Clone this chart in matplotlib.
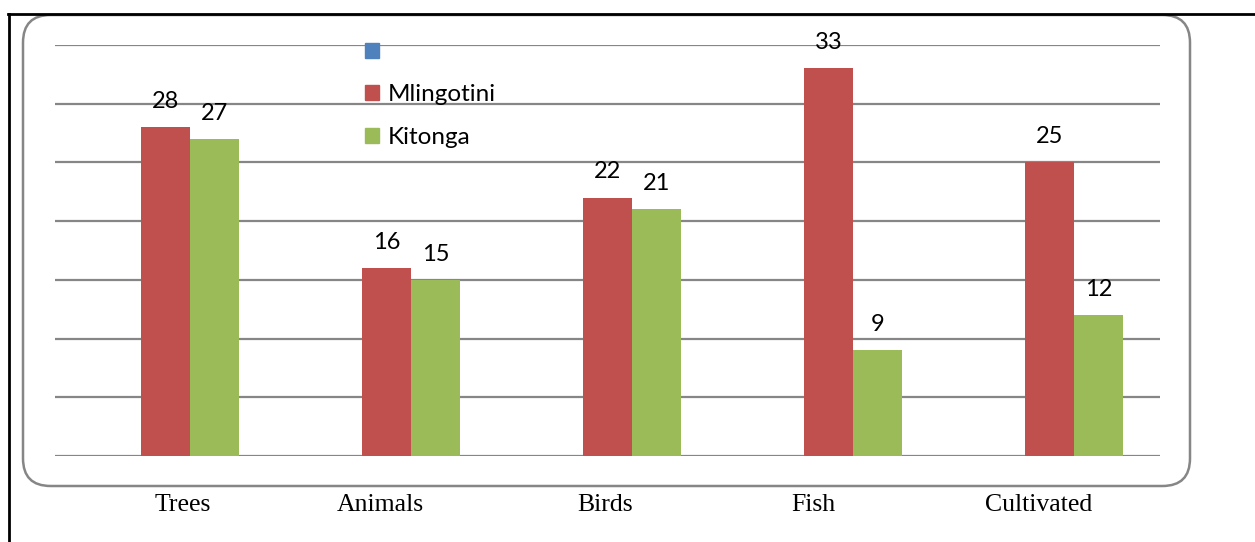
import numpy as np
import matplotlib.pyplot as plt
from matplotlib.patches import FancyBboxPatch, Patch
from matplotlib.lines import Line2D

categories = ['Trees', 'Animals', 'Birds', 'Fish', 'Cultivated']
mlingotini = [28, 16, 22, 33, 25]
kitonga = [27, 15, 21, 9, 12]

red = '#C0504D'
green = '#9BBB59'
blue = '#4F81BD'
grid_col = '#868686'

W, H = 1255, 542
fig = plt.figure(figsize=(W / 100, H / 100), dpi=100)

# axes placed in pixel terms
ax = fig.add_axes([55 / W, (H - 456) / H, 1105 / W, 411 / H])
x = np.arange(len(categories))
bw = 0.222
# empty first (blue) series sits left of the red bar
b1 = ax.bar(x, mlingotini, bw, color=red, zorder=3)
b2 = ax.bar(x + bw, kitonga, bw, color=green, zorder=3)

for bars, vals in ((b1, mlingotini), (b2, kitonga)):
    for r, v in zip(bars, vals):
        ax.annotate(str(v), (r.get_x() + r.get_width() / 2, r.get_height()),
                    xytext=(0, 18.5), textcoords='offset points',
                    ha='center', va='center', fontsize=17, family='Lato')

ax.set_xlim(-0.5, len(categories) - 0.5)
ax.set_ylim(0, 35)
ax.set_yticks(np.arange(0, 36, 5))
ax.yaxis.grid(True, color=grid_col, linewidth=1.6, zorder=0)
ax.set_axisbelow(True)
ax.tick_params(left=False, bottom=False, labelleft=False, labelbottom=False)
for s in ax.spines.values():
    s.set_visible(False)

# category labels below the rounded box (typed in the document, slightly off-centre)
label_shift = [0.08, -0.03, -0.01, -0.07, -0.05]
for i, c in enumerate(categories):
    ax.annotate(c, (i + label_shift[i], 0), xytext=(0, -35.5), textcoords='offset points',
                ha='center', va='center', fontsize=18.5, family='Liberation Serif')

# legend (first entry has no label)
handles = [Patch(color=blue), Patch(color=red), Patch(color=green)]
fig.legend(handles, ['', 'Mlingotini', 'Kitonga'], loc='upper left',
           bbox_to_anchor=(365 / W, 1 - 42 / H), frameon=False,
           prop={'family': 'Lato', 'size': 17.5}, handlelength=0.58,
           handleheight=0.58, handletextpad=0.35, labelspacing=0.88,
           borderpad=0, borderaxespad=0)

# rounded chart box
box = FancyBboxPatch((23 / W, (H - 486) / H), 1167 / W, 471 / H,
                     boxstyle='round,pad=0,rounding_size=0.022',
                     transform=fig.transFigure, fill=False,
                     edgecolor=grid_col, linewidth=1.8, mutation_aspect=W / H)
fig.patches.append(box)

# black page frame lines
fig.add_artist(Line2D([8 / W, 1], [1 - 14 / H, 1 - 14 / H], color='black',
                      linewidth=2, transform=fig.transFigure))
fig.add_artist(Line2D([9 / W, 9 / W], [0, 1 - 14 / H], color='black',
                      linewidth=2, transform=fig.transFigure))

fig.savefig('out.png', dpi=100)
